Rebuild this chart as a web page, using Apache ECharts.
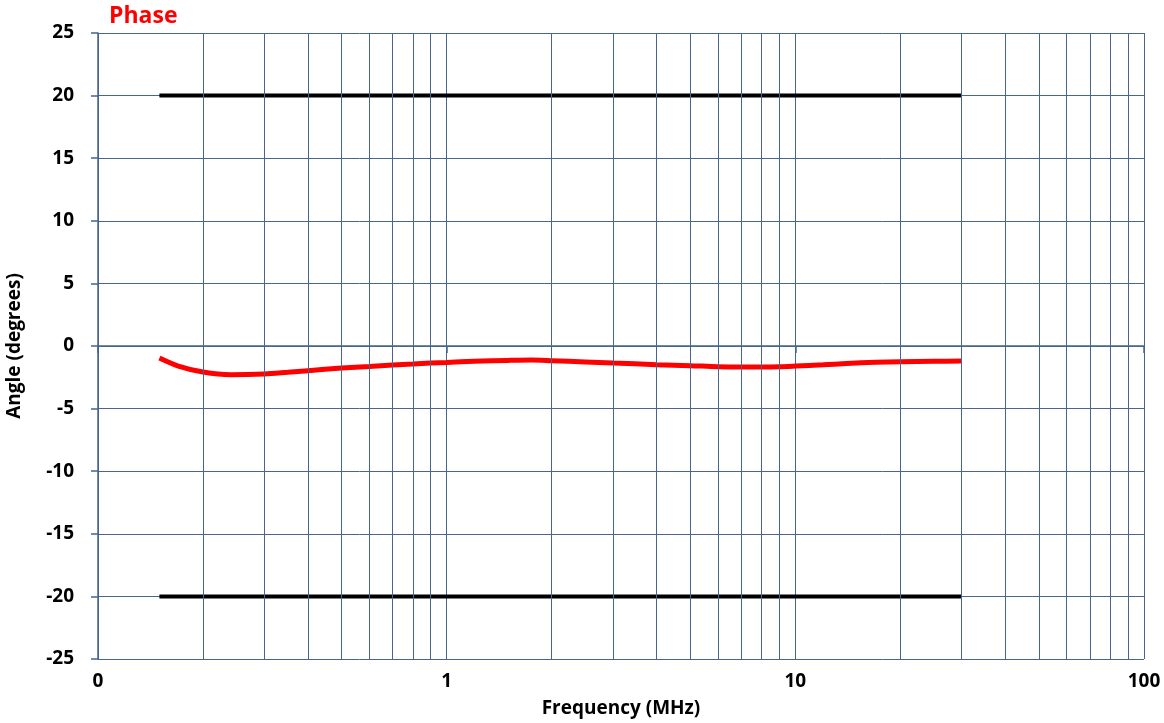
<!DOCTYPE html>
<html>
<head>
<meta charset="utf-8">
<script src="https://cdn.jsdelivr.net/npm/echarts@6/dist/echarts.min.js"></script>
<style>
	html, body { margin: 0; padding: 0; background: #fff; }
	#main { width: 1164px; height: 723px; }
</style>
</head>
<body>
<div id="main"></div>
<script>
// 频率 (MHz) 与相位 (度)
var freq = [0.15, 0.17, 0.2, 0.24, 0.3, 0.35, 0.4, 0.5, 0.6, 0.7, 0.8, 0.9, 1, 1.2, 1.5, 1.75, 2, 2.5, 3, 4, 5, 6, 7, 8, 9, 10, 12, 14, 17, 20, 25, 30];
var phase = [-0.96, -1.6, -2.08, -2.3, -2.24, -2.1, -1.97, -1.76, -1.63, -1.52, -1.44, -1.36, -1.31, -1.22, -1.15, -1.12, -1.17, -1.27, -1.36, -1.49, -1.57, -1.65, -1.67, -1.67, -1.65, -1.6, -1.5, -1.4, -1.3, -1.25, -1.22, -1.2];

// 上下限
var limitFreq = [0.15, 30];
var upperLimit = [20, 20];
var lowerLimit = [-20, -20];

// 次网格线
var minorX = [0.2, 0.3, 0.4, 0.5, 0.6, 0.7, 0.8, 0.9, 2, 3, 4, 5, 6, 7, 8, 9, 20, 30, 40, 50, 60, 70, 80, 90];

var gridColor = '#46658f';
var font = '"Open Sans", "Liberation Sans", sans-serif';

function pairs(xs, ys) {
	return xs.map(function (x, i) { return [x, ys[i]]; });
}

var myChart = echarts.init(document.getElementById('main'));

var option = {
	animation: false,
	backgroundColor: '#fff',
	title: {
		text: 'Phase',
		left: 104,
		top: 0,
		textStyle: { color: '#ff0000', fontSize: 23, fontWeight: 'bold', fontFamily: font }
	},
	grid: { left: 98, right: 20, top: 33, bottom: 64, outerBoundsMode: 'none' },
	xAxis: {
		type: 'log',
		logBase: 10,
		min: 0.1,
		max: 100,
		name: 'Frequency (MHz)',
		nameLocation: 'middle',
		nameGap: 40,
		nameTextStyle: { color: '#000', fontSize: 19, fontWeight: 'bold', fontFamily: font },
		axisLine: { show: true, lineStyle: { color: gridColor, width: 1.5 } },
		axisTick: { show: true, length: 7, lineStyle: { color: gridColor, width: 1.5 } },
		axisLabel: {
			color: '#000', fontSize: 19, fontWeight: 'bold', fontFamily: font, margin: 13,
			formatter: function (v) { return v < 1 ? '0' : String(Math.round(v)); }
		},
		splitLine: { show: true, lineStyle: { color: gridColor, width: 1 } }
	},
	yAxis: {
		type: 'value',
		min: -25,
		max: 25,
		interval: 5,
		name: 'Angle (degrees)',
		nameLocation: 'middle',
		nameGap: 74,
		nameTextStyle: { color: '#000', fontSize: 19, fontWeight: 'bold', fontFamily: font },
		axisLine: { show: true, lineStyle: { color: gridColor, width: 1.5 } },
		axisTick: { show: true, length: 7, lineStyle: { color: gridColor, width: 1.5 } },
		axisLabel: { color: '#000', fontSize: 19, fontWeight: 'bold', fontFamily: font, margin: 24 },
		splitLine: { show: true, lineStyle: { color: gridColor, width: 1 } }
	},
	series: [
		{
			name: 'minor',
			type: 'line',
			data: [],
			silent: true,
			markLine: {
				silent: true,
				symbol: ['none', 'none'],
				label: { show: false },
				lineStyle: { color: gridColor, width: 1, type: 'solid' },
				data: minorX.map(function (x) { return { xAxis: x }; })
			}
		},
		{
			name: 'upper',
			type: 'line',
			data: pairs(limitFreq, upperLimit),
			symbol: 'none',
			lineStyle: { color: '#000', width: 4 }
		},
		{
			name: 'lower',
			type: 'line',
			data: pairs(limitFreq, lowerLimit),
			symbol: 'none',
			lineStyle: { color: '#000', width: 4 }
		},
		{
			name: 'Phase',
			type: 'line',
			data: pairs(freq, phase),
			symbol: 'none',
			smooth: 0.3,
			lineStyle: { color: '#ff0000', width: 5 }
		}
	]
};

myChart.setOption(option);
</script>
</body>
</html>
